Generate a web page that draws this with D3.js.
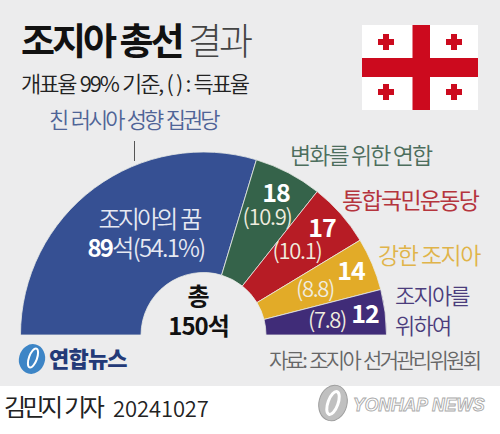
<!DOCTYPE html>
<html><head><meta charset="utf-8">
<script src="https://cdn.jsdelivr.net/npm/d3@7"></script>
<style>
html,body{margin:0;padding:0;background:#fff}
svg{display:block}
text{font-family:"Noto Sans CJK KR","Noto Sans",sans-serif}
</style></head><body>
<script>
const parties=["조지아의 꿈","변화를 위한 연합","통합국민운동당","강한 조지아","조지아를 위하여"];
const seats=[89,18,17,14,12];
const shares=[54.1,10.9,10.1,8.8,7.8];
const colors=["#365093","#35634a","#b71c25","#e2ab28","#402c78"];
const titleBold="조지아 총선";
const titleLight="결과";
const subtitle="개표율 99% 기준, ( ) : 득표율";
const rulingNote="친 러시아 성향 집권당";
const totalLabel=["총","150석"];
const source="자료: 조지아 선거관리위원회";
const byline="김민지 기자";
const dateLabel="20241027";
const seatLabelPos=[null,[276,202],[322,237],[351,280],[365,323]];
const shareLabelPos=[null,[267,225],[297,259],[315,297],[327,328]];
const nameLabelPos=[null,[290,164],[342,209],[378,264],[395,304]];
const nameColors=[null,"#4d6e5d","#b5353d","#e0b44a","#4b3d7c"];
const nameSpacing=[null,-1.9,-1.7,-1.5];

const svg=d3.select("body").append("svg").attr("width",500).attr("height",434);
svg.append("rect").attr("width",500).attr("height",434).attr("fill","#fff");
svg.append("rect").attr("width",500).attr("height",386).attr("fill","#ececed");
function T(x,y,s,size,fill,opts={}){
  return svg.append("text").attr("x",x).attr("y",y).text(s)
    .attr("font-size",size).attr("fill",fill)
    .attr("font-weight",opts.w||400)
    .attr("text-anchor",opts.a||"start")
    .attr("letter-spacing",opts.ls==null?0:opts.ls)
    .attr("word-spacing",opts.ws==null?0:opts.ws);
}
// header
T(21,55,titleBold,37,"#111",{w:700,ls:-3});
T(188,55,titleLight,37,"#444",{w:300,ls:-3});
T(21,92,subtitle,22,"#222",{w:350,ls:-2.1,ws:1.5});
T(49,128,rulingNote,22,"#4f6497",{w:350,ls:-3,ws:2.5});
// flag
const red="#cc0a1e";
svg.append("rect").attr("x",362).attr("y",25).attr("width",116).attr("height",85).attr("fill","#fff");
svg.append("rect").attr("x",412.5).attr("y",25).attr("width",17.5).attr("height",85).attr("fill",red);
svg.append("rect").attr("x",362).attr("y",58).attr("width",116).attr("height",19).attr("fill",red);
[[386,42],[454,42],[386,92],[454,92]].forEach(([x,y])=>{
  svg.append("rect").attr("x",x-8).attr("y",y-3).attr("width",16).attr("height",6).attr("fill",red);
  svg.append("rect").attr("x",x-3).attr("y",y-8).attr("width",6).attr("height",16).attr("fill",red);
});
// leader
svg.append("line").attr("x1",134.5).attr("x2",134.5).attr("y1",141).attr("y2",161).attr("stroke","#555").attr("stroke-width",1);
// half donut
const cx=203.5,cy=335;
const pie=d3.pie().sort(null).value(d=>d).startAngle(-Math.PI/2).endAngle(Math.PI/2);
const arc=d3.arc().innerRadius(62.5).outerRadius(183);
svg.append("g").attr("transform",`translate(${cx},${cy})`)
  .selectAll("path").data(pie(seats)).join("path")
  .attr("d",arc).attr("fill",(d,i)=>colors[i])
  .attr("stroke","#e8ebe6").attr("stroke-width",0.8);
svg.append("rect").attr("x",15).attr("y",335).attr("width",380).attr("height",2).attr("fill","#ececed");
// labels in arcs
T(149,228,parties[0],24,"#e6e9f2",{w:350,a:"middle",ls:-2.8,ws:2});
const main=svg.append("text").attr("x",146).attr("y",257).attr("text-anchor","middle").attr("fill","#e6e9f2").attr("font-size",24).attr("letter-spacing",-1.7);
main.append("tspan").attr("font-weight",700).attr("font-size",24).attr("fill","#fff").text(seats[0]);
main.append("tspan").attr("font-weight",350).text(`석(${shares[0]}%)`);
seats.forEach((s,i)=>{
  if(!i) return;
  T(seatLabelPos[i][0],seatLabelPos[i][1],s,25,"#fff",{w:700,a:"middle",ls:-1});
  T(shareLabelPos[i][0],shareLabelPos[i][1],`(${shares[i]})`,22,"#f0ecdf",{w:350,a:"middle",ls:-1.3});
  if(i<4) T(nameLabelPos[i][0],nameLabelPos[i][1],parties[i],23,nameColors[i],{w:i==2?400:350,ls:nameSpacing[i]});
});
const lastName=parties[4].split(" ");
T(395,304,lastName[0],22,nameColors[4],{w:350,ls:-1.8});
T(395,334,lastName[1],22,nameColors[4],{w:350,ls:-1.8});
// centre
T(198.5,305,totalLabel[0],24,"#111",{w:700,a:"middle"});
T(198.5,335,totalLabel[1],24,"#111",{w:700,a:"middle",ls:-1});
// source + logo
T(269,368,source,21,"#666",{w:350,ls:-2.7,ws:2});
svg.append("ellipse").attr("cx",32).attr("cy",359).attr("rx",13).attr("ry",15).attr("transform","rotate(15 32 359)").attr("fill","#3d85c6");
svg.append("ellipse").attr("cx",33).attr("cy",358).attr("rx",4).attr("ry",10).attr("transform","rotate(20 33 358)").attr("fill","none").attr("stroke","#fff").attr("stroke-width",2);
T(49,367,"연합뉴스",22,"#233a78",{w:900,ls:-0.8});
// byline
T(4,416,byline,24,"#222",{w:400,ls:-3.6,ws:3});
T(113,417,dateLabel,22,"#222",{w:350,ls:-0.1});
// watermark
const wm=svg.append("g").attr("opacity",0.95);
wm.append("ellipse").attr("cx",333).attr("cy",403).attr("rx",14).attr("ry",18).attr("transform","rotate(15 333 403)").attr("fill","#bdbdbd").attr("stroke","#999");
wm.append("ellipse").attr("cx",333).attr("cy",403).attr("rx",5).attr("ry",12).attr("transform","rotate(20 333 403)").attr("fill","none").attr("stroke","#fff").attr("stroke-width",3);
T(353,411,"YONHAP NEWS",17.5,"#fff",{w:800,ls:0}).attr("stroke","#aaa").attr("stroke-width",0.9).attr("font-style","italic").style("font-family","'Liberation Sans',sans-serif");
</script>
</body></html>
